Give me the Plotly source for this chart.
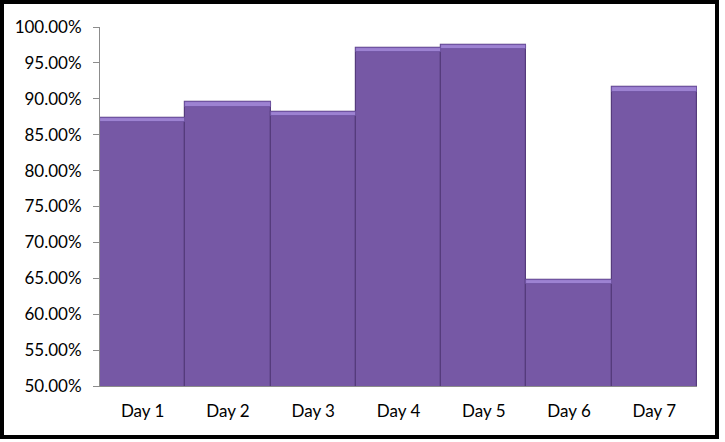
import plotly.graph_objects as go

days = ["Day 1", "Day 2", "Day 3", "Day 4", "Day 5", "Day 6", "Day 7"]
values = [0.873, 0.895, 0.882, 0.971, 0.975, 0.648, 0.916]

W, H = 725, 442
ML, MR, MT, MB = 100, 28, 27, 56
pw, ph = W - ML - MR, H - MT - MB

bevel = 0.006
fig = go.Figure()
fig.add_trace(go.Bar(
    x=days, y=values, base=0,
    marker=dict(color="#7658a5", line=dict(color="#553b7c", width=1.2)),
    hoverinfo="x+y", showlegend=False,
))
fig.add_trace(go.Bar(
    x=days, y=[bevel] * len(values), base=[v - bevel for v in values],
    marker=dict(color="#9d82d2", line=dict(color="#6d52a0", width=0.8)),
    hoverinfo="skip", showlegend=False,
))

def px_x(p):
    return (p - ML) / pw

def px_y(p):
    return (H - MB - p) / ph

fig.add_shape(type="rect", xref="paper", yref="paper",
              x0=px_x(2), x1=px_x(717), y0=px_y(437), y1=px_y(2),
              line=dict(color="black", width=4), layer="above")

fig.update_layout(
    width=W, height=H,
    margin=dict(l=ML, r=MR, t=MT, b=MB),
    paper_bgcolor="white", plot_bgcolor="white",
    barmode="overlay", bargap=0,
    font=dict(family="Lato, Open Sans, sans-serif", size=17, color="black"),
    xaxis=dict(showline=True, linecolor="#8c8c8c", linewidth=1, ticks="",
               tickfont=dict(size=17), showgrid=False, ticklabelstandoff=10),
    yaxis=dict(range=[0.5, 1.0], dtick=0.05, tick0=0.5, tickformat=".2%",
               showline=True, linecolor="#8c8c8c", linewidth=1,
               ticks="outside", ticklen=6, tickcolor="#8c8c8c",
               showgrid=False, zeroline=False, tickfont=dict(size=17),
               ticklabelstandoff=8),
)

fig.write_html("out.html")
